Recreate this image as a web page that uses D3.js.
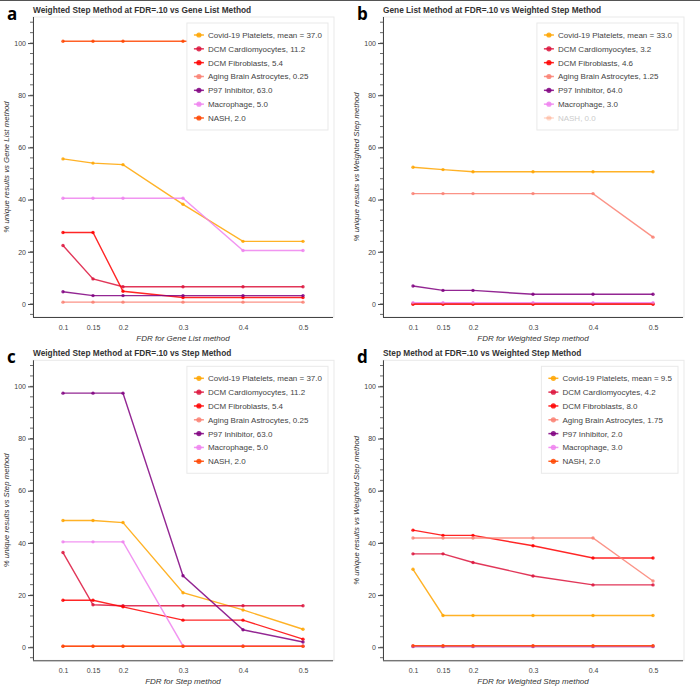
<!DOCTYPE html>
<html>
<head>
<meta charset="utf-8">
<script src="https://cdn.jsdelivr.net/npm/d3@7"></script>
<style>
  body { margin: 0; background: #fff; }
  svg { display: block; font-family: "Liberation Sans", Arial, sans-serif; }
</style>
</head>
<body>
<svg id="chart" width="700" height="687"></svg>
<script>
// x values shared by all panels
var fdr = [0.1, 0.15, 0.2, 0.3, 0.4, 0.5];
var fdrTicks = ["0.1", "0.15", "0.2", "0.3", "0.4", "0.5"];
var yTicks = [0, 20, 40, 60, 80, 100];

var seriesNames = ["Covid-19 Platelets", "DCM Cardiomyocytes", "DCM Fibroblasts",
  "Aging Brain Astrocytes", "P97 Inhibitor", "Macrophage", "NASH"];
var seriesColors = ["orange", "crimson", "red", "salmon", "purple", "violet", "orangered"];

// panel titles / axis labels
var panelLetters = ["a", "b", "c", "d"];
var panelTitles = [
  "Weighted Step Method at FDR=.10 vs Gene List Method",
  "Gene List Method at FDR=.10 vs Weighted Step Method",
  "Weighted Step Method at FDR=.10 vs Step Method",
  "Step Method at FDR=.10 vs Weighted Step Method"
];
var xLabels = ["FDR for Gene List method", "FDR for Weighted Step method",
  "FDR for Step method", "FDR for Weighted Step method"];
var yLabels = ["% unique results vs Gene List method", "% unique results vs Weighted Step method",
  "% unique results vs Step method", "% unique results vs Weighted Step method"];

// legend suffixes per panel
var legendA = ["mean = 37.0", "11.2", "5.4", "0.25", "63.0", "5.0", "2.0"];
var legendB = ["mean = 33.0", "3.2", "4.6", "1.25", "64.0", "3.0", "0.0"];
var legendC = ["mean = 37.0", "11.2", "5.4", "0.25", "63.0", "5.0", "2.0"];
var legendD = ["mean = 9.5", "4.2", "8.0", "1.75", "2.0", "3.0", "2.0"];
var mutedB = [false, false, false, false, false, false, true];

// % unique results, one array per series (order as seriesNames)
var valuesA = [
  [55.6, 54.0, 53.4, 38.2, 24.0, 24.0],
  [22.4, 9.6, 6.6, 6.6, 6.6, 6.6],
  [27.4, 27.4, 4.85, 2.5, 2.5, 2.5],
  [0.7, 0.7, 0.7, 0.7, 0.7, 0.7],
  [4.7, 3.2, 3.2, 3.2, 3.2, 3.2],
  [40.5, 40.5, 40.5, 40.5, 20.5, 20.5],
  [100.7, 100.7, 100.7, 100.7, 100.7, 100.7]
];
var valuesB = [
  [52.4, 51.5, 50.7, 50.7, 50.7, 50.7],
  [0, 0, 0, 0, 0, 0],
  [0, 0, 0, 0, 0, 0],
  [42.3, 42.3, 42.3, 42.3, 42.3, 25.6],
  [6.9, 5.2, 5.2, 3.7, 3.7, 3.7],
  [0.5, 0.5, 0.5, 0.5, 0.5, 0.5],
  [0, 0, 0, 0, 0, 0]
];
var valuesC = [
  [48.6, 48.6, 47.8, 20.9, 14.3, 6.9],
  [36.3, 16.3, 15.9, 15.9, 15.9, 15.9],
  [18.0, 18.0, 15.5, 10.4, 10.4, 3.1],
  [0.4, 0.4, 0.4, 0.4, 0.4, 0.4],
  [97.4, 97.4, 97.4, 27.4, 6.7, 2.0],
  [40.4, 40.4, 40.4, 0.5, 0.5, 0.5],
  [0.4, 0.4, 0.4, 0.4, 0.4, 0.4]
];
var valuesD = [
  [29.9, 12.2, 12.2, 12.2, 12.2, 12.2],
  [35.8, 35.8, 32.5, 27.3, 23.9, 23.9],
  [44.9, 42.9, 42.9, 38.9, 34.2, 34.2],
  [41.9, 41.9, 41.9, 41.9, 41.9, 25.4],
  [0.3, 0.3, 0.3, 0.3, 0.3, 0.3],
  [0.5, 0.5, 0.5, 0.5, 0.5, 0.5],
  [0.6, 0.6, 0.6, 0.6, 0.6, 0.6]
];

var panels = [
  {values: valuesA, legend: legendA, muted: [], ox: 0, oy: 0},
  {values: valuesB, legend: legendB, muted: mutedB, ox: 350, oy: 0},
  {values: valuesC, legend: legendC, muted: [], ox: 0, oy: 343.3},
  {values: valuesD, legend: legendD, muted: [], ox: 350, oy: 343.3}
];

var svg = d3.select("#chart");
var margin = {top: 17, left: 33},
    width = 300,
    height = 300;

// thin frame line along the top of the figure
svg.append("line").attr("x1", 0).attr("x2", 700).attr("y1", 0.5).attr("y2", 0.5)
  .attr("stroke", "#555").attr("stroke-width", 1.2);

var x = d3.scaleLinear().domain([0.05, 0.55]).range([0, width]);
var y = d3.scaleLinear().domain([-5, 110]).range([height, 0]);

var line = d3.line().x(function(d, i) { return x(fdr[i]); }).y(function(d) { return y(d); });

panels.forEach(function(p, pi) {
  var root = svg.append("g").attr("transform", "translate(" + p.ox + "," + p.oy + ")");

  root.append("text").attr("x", 7).attr("y", 20)
    .style("font-size", "17px").style("font-weight", "bold").style("fill", "#000")
    .style("font-family", "'Open Sans', 'Liberation Sans', sans-serif")
    .text(panelLetters[pi]);

  root.append("text").attr("x", margin.left).attr("y", 12.5)
    .style("font-size", "8.3px").style("font-weight", "bold").style("fill", "#333")
    .text(panelTitles[pi]);

  var g = root.append("g").attr("transform", "translate(" + margin.left + "," + margin.top + ")");

  g.append("rect").attr("x", 0).attr("y", 0).attr("width", width + 1).attr("height", height)
    .attr("fill", "#fff").attr("stroke", "#e9e9e9").attr("stroke-width", 1);

  // minor y ticks
  var minor = d3.range(-4, 110, 4);
  g.selectAll(".minor").data(minor).enter().append("line")
    .attr("x1", -3).attr("x2", 0)
    .attr("y1", function(d) { return y(d); }).attr("y2", function(d) { return y(d); })
    .attr("stroke", "#444").attr("stroke-width", 0.8);

  var yAxis = g.append("g").call(d3.axisLeft(y).tickValues(yTicks).tickSize(5).tickPadding(2));
  yAxis.select(".domain").attr("d", "M0.5,0V" + height).attr("stroke", "#444");
  yAxis.selectAll(".tick line").attr("stroke", "#444");
  yAxis.selectAll("text").style("font-size", "7px").style("fill", "#444")
    .style("font-family", "'Liberation Sans', Arial, sans-serif");

  var xAxis = g.append("g").attr("transform", "translate(0," + height + ")")
    .call(d3.axisBottom(x).tickValues(fdr).tickFormat(function(d, i) { return fdrTicks[i]; })
      .tickSize(0).tickPadding(8));
  xAxis.select(".domain").attr("d", "M0," + 0.5 + "H" + width).attr("stroke", "#444");
  xAxis.selectAll("text").style("font-size", "7px").style("fill", "#444")
    .style("font-family", "'Liberation Sans', Arial, sans-serif");

  g.append("text").attr("x", width / 2).attr("y", height + 23.5)
    .attr("text-anchor", "middle").style("font-size", "8px").style("font-style", "italic")
    .style("fill", "#333").text(xLabels[pi]);

  g.append("text").attr("transform", "translate(" + (-24) + "," + (height / 2) + ") rotate(-90)")
    .attr("text-anchor", "middle").style("font-size", "7.8px").style("font-style", "italic")
    .style("fill", "#333").text(yLabels[pi]);

  var plot = g.append("g");
  p.values.forEach(function(vals, si) {
    var op = p.muted[si] ? 0.2 : 0.85;
    plot.append("path").datum(vals).attr("d", line)
      .attr("fill", "none").attr("stroke", seriesColors[si])
      .attr("stroke-width", 1.4).attr("stroke-opacity", op);
    plot.selectAll(".pt" + si).data(vals).enter().append("circle")
      .attr("cx", function(d, i) { return x(fdr[i]); })
      .attr("cy", function(d) { return y(d); })
      .attr("r", 1.7).attr("fill", seriesColors[si]).attr("fill-opacity", op);
  });

  // legend
  var leg = g.append("g");
  var rowH = 13.83;
  var items = seriesNames.map(function(n, i) { return n + ", " + p.legend[i]; });
  var texts = leg.selectAll(".lt").data(items).enter().append("text")
    .attr("class", "lt")
    .attr("y", function(d, i) { return 12 + i * rowH + 3; })
    .style("font-size", "8px")
    .style("fill", function(d, i) { return p.muted[i] ? "#ccc" : "#444"; })
    .text(function(d) { return d; });
  var maxW = 0;
  texts.each(function() { maxW = Math.max(maxW, this.getComputedTextLength()); });
  var boxW = 7 + 14 + maxW + 6;
  var boxH = 24 + 6 * rowH;
  var bx = width - 5 - boxW, by = 6;
  leg.attr("transform", "translate(" + bx + "," + by + ")");
  leg.insert("rect", "text").attr("x", 0).attr("y", 0).attr("width", boxW).attr("height", boxH)
    .attr("fill", "#fff").attr("stroke", "#e9e9e9");
  texts.attr("x", 21);
  items.forEach(function(d, i) {
    var cy = 12 + i * rowH;
    var op = p.muted[i] ? 0.2 : 0.85;
    leg.append("line").attr("x1", 7).attr("x2", 17).attr("y1", cy).attr("y2", cy)
      .attr("stroke", seriesColors[i]).attr("stroke-width", 1.5).attr("stroke-opacity", op);
    leg.append("circle").attr("cx", 12).attr("cy", cy).attr("r", 2.6)
      .attr("fill", seriesColors[i]).attr("fill-opacity", op);
  });
});
</script>
</body>
</html>
